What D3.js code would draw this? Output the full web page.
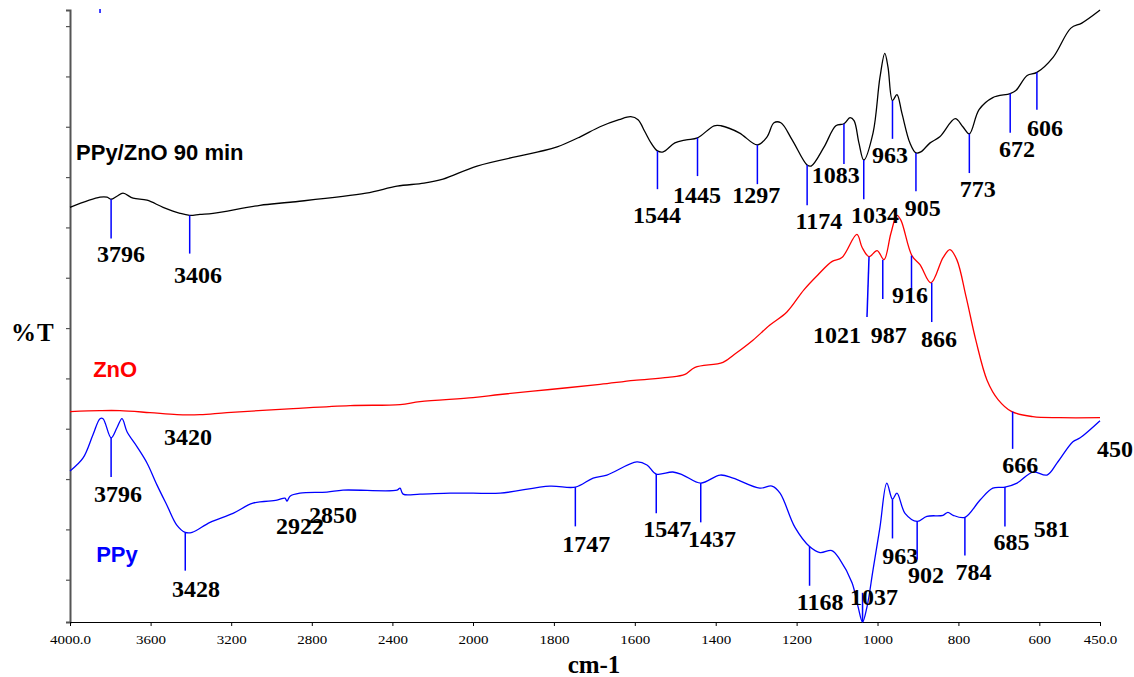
<!DOCTYPE html>
<html>
<head>
<meta charset="utf-8">
<script src="https://cdn.jsdelivr.net/npm/d3@7"></script>
<style>
  html, body { margin: 0; padding: 0; background: #ffffff; }
  svg { display: block; }
</style>
</head>
<body>
<svg id="chart" width="1134" height="677"></svg>
<script>
// ---------------- DATA ----------------
const wavenumberTicks = [4000, 3600, 3200, 2800, 2400, 2000, 1800, 1600, 1400, 1200, 1000, 800, 600, 450];
const wavenumberTickLabels = ["4000.0", "3600", "3200", "2800", "2400", "2000", "1800", "1600", "1400", "1200", "1000", "800", "600", "450.0"];
const transmittanceTicks = [0, 5, 10, 15, 20, 25, 30, 35, 40, 45, 50, 55];

const seriesNames = ["PPy/ZnO 90 min", "ZnO", "PPy"];
const seriesColors = ["#000000", "#ff0000", "#0000ff"];

// [wavenumber (cm-1), %T (offset, arbitrary)]
const ppyZnO = [
  [4000, 37.0], [3851, 38.0], [3816, 38.0], [3796, 37.8], [3767, 38.1], [3737, 38.4],
  [3687, 37.9], [3618, 37.7], [3538, 37.0], [3454, 36.4], [3406, 36.2], [3355, 36.3],
  [3290, 36.4], [3057, 37.2], [2908, 37.5], [2531, 38.4], [2377, 39.1], [2243, 39.4],
  [2149, 39.8], [1990, 41.1], [1839, 42.5], [1792, 43.0], [1735, 44.0], [1686, 45.0],
  [1639, 45.7], [1610, 46.0], [1592, 45.7], [1575, 44.5], [1560, 43.4], [1544, 42.6],
  [1530, 42.5], [1501, 43.4], [1473, 43.7], [1445, 43.9], [1404, 45.1], [1387, 45.1],
  [1342, 44.4], [1297, 43.2], [1273, 44.0], [1256, 45.4], [1239, 45.4], [1211, 43.7],
  [1174, 41.2], [1164, 41.1], [1132, 43.0], [1103, 45.1], [1083, 45.3], [1068, 45.9],
  [1058, 45.6], [1046, 43.4], [1034, 41.7], [1011, 44.4], [994, 49.9], [982, 52.3],
  [974, 50.9], [963, 47.6], [952, 48.2], [940, 46.4], [920, 43.4], [905, 42.4],
  [893, 42.5], [870, 43.4], [846, 44.0], [808, 45.8], [789, 45.0], [773, 44.3],
  [749, 46.7], [715, 47.9], [672, 48.3], [658, 48.6], [630, 50.1], [606, 50.4],
  [566, 51.9], [522, 54.8], [495, 55.3], [453, 56.5], [450, 56.6]
];

const znO = [
  [4000, 16.7], [3851, 16.8], [3752, 16.8], [3603, 16.6], [3469, 16.4], [3355, 16.4],
  [3221, 16.6], [2893, 17.0], [2610, 17.3], [2362, 17.4], [2263, 17.7], [2000, 18.1],
  [1933, 18.4], [1810, 18.9], [1686, 19.4], [1602, 19.8], [1518, 20.1], [1476, 20.4],
  [1451, 21.1], [1382, 21.6], [1350, 22.5], [1308, 23.8], [1266, 25.3], [1224, 26.6],
  [1182, 28.8], [1147, 30.3], [1113, 31.6], [1088, 32.0], [1051, 34.3], [1038, 33.0],
  [1021, 32.1], [1001, 32.7], [984, 31.8], [967, 34.4], [952, 36.2], [942, 35.7],
  [915, 32.2], [895, 31.3], [868, 29.5], [838, 32.0], [821, 32.8], [804, 31.8],
  [781, 28.1], [757, 23.8], [729, 19.8], [702, 17.9], [668, 16.7], [616, 16.2],
  [549, 16.1], [450, 16.1]
];

const ppy = [
  [4000, 10.8], [3935, 12.1], [3886, 14.4], [3851, 16.0], [3836, 16.0], [3796, 14.1],
  [3767, 15.1], [3742, 16.0], [3717, 14.7], [3667, 13.2], [3618, 11.6], [3568, 9.4],
  [3519, 7.4], [3469, 5.4], [3428, 4.7], [3394, 4.7], [3305, 5.7], [3191, 6.6],
  [3092, 7.6], [2973, 7.9], [2933, 8.1], [2923, 7.8], [2908, 8.3], [2859, 8.6],
  [2725, 8.7], [2645, 8.9], [2377, 8.9], [2362, 9.1], [2347, 8.5], [2263, 8.5],
  [2114, 8.6], [2000, 8.6], [1933, 8.6], [1810, 9.3], [1747, 9.2], [1703, 10.1],
  [1669, 10.4], [1595, 11.7], [1570, 11.4], [1547, 10.5], [1506, 10.7], [1481, 10.4],
  [1437, 9.6], [1389, 10.4], [1357, 10.1], [1291, 9.1], [1261, 9.3], [1241, 8.6],
  [1204, 5.2], [1168, 3.3], [1142, 2.7], [1113, 2.9], [1093, 2.0], [1063, -0.3],
  [1048, -2.7], [1037, -4.2], [1026, -2.7], [1011, 1.0], [994, 5.2], [977, 9.6],
  [963, 8.0], [952, 8.6], [932, 6.6], [902, 5.8], [878, 6.3], [838, 6.4],
  [826, 6.7], [813, 6.4], [784, 6.2], [747, 7.9], [715, 9.1], [685, 9.2],
  [655, 9.6], [616, 10.7], [581, 10.4], [556, 11.6], [517, 13.7], [499, 14.1],
  [450, 15.8]
];

// peak annotations: label, marker wavenumber (top / bottom), marker %T top/bottom, label wavenumber, label %T (baseline)
const ppyZnOPeaks = [
  ["3796", 3796, 3796, 37.8, 33.9, 3747, 31.6],
  ["3406", 3406, 3406, 36.2, 32.4, 3365, 29.5],
  ["1544", 1544, 1544, 42.6, 38.8, 1545, 35.4],
  ["1445", 1445, 1445, 43.9, 40.1, 1446, 37.4],
  ["1297", 1297, 1297, 43.2, 39.3, 1300, 37.4],
  ["1174", 1174, 1174, 41.2, 37.2, 1145, 34.8],
  ["1083", 1083, 1083, 45.3, 41.3, 1103, 39.4],
  ["1034", 1034, 1034, 41.7, 37.8, 1006, 35.4],
  ["963", 963, 963, 47.6, 43.8, 969, 41.4],
  ["905", 905, 905, 42.4, 38.6, 888, 36.1],
  ["773", 773, 773, 44.3, 40.4, 752, 38.0],
  ["672", 672, 672, 48.3, 44.4, 655, 42.0],
  ["606", 606, 606, 50.4, 46.7, 586, 44.1]
];
const znOPeaks = [
  ["3420", null, null, null, null, 3414, 13.4],
  ["1021", 1021, 1026, 32.1, 26.1, 1100, 23.5],
  ["987", 987, 987, 31.8, 27.9, 972, 23.5],
  ["916", 916, 916, 32.2, 28.8, 920, 27.5],
  ["866", 866, 866, 29.5, 25.6, 848, 23.1],
  ["666", 666, 666, 16.7, 13.0, 647, 10.6]
];
const ppyPeaks = [
  ["", 3851, 3851, 56.7, 56.3, null, null],
  ["3796", 3796, 3796, 14.1, 10.2, 3762, 7.7],
  ["3428", 3428, 3428, 4.7, 0.9, 3375, -1.7],
  ["2922", null, null, null, null, 2859, 4.5],
  ["2850", null, null, null, null, 2695, 5.6],
  ["1747", 1747, 1747, 9.2, 5.3, 1720, 2.8],
  ["1547", 1547, 1547, 10.5, 6.6, 1520, 4.2],
  ["1437", 1437, 1437, 9.6, 5.7, 1409, 3.3],
  ["1168", 1168, 1168, 3.3, -0.6, 1142, -3.0],
  ["1037", 1037, 1037, -1.3, -4.2, 1009, -2.5],
  ["963", 963, 963, 8.0, 4.1, 944, 1.6],
  ["902", 902, 902, 5.8, 2.0, 880, -0.3],
  ["784", 784, 784, 6.2, 2.4, 763, 0.0],
  ["685", 685, 685, 9.2, 5.3, 669, 3.0],
  ["581", null, null, null, null, 569, 4.2],
  ["450", null, null, null, null, 413, 12.2]
];

// series name label anchor: [wavenumber, %T]
const seriesLabelAnchors = [[3970, 41.7], [3885, 20.1], [3870, 1.8]];

// ---------------- DRAW ----------------
const svg = d3.select("#chart");
const x = d3.scaleLinear().domain([4000, 2000, 450]).range([70, 473, 1100]);
const y = d3.scaleLinear().domain([-4.2, 56.6]).range([622, 10]);

const SERIF = "'Liberation Serif', 'Times New Roman', serif";
const SANS = "'Liberation Sans', Arial, sans-serif";

// Y axis (no labels)
const yAxis = d3.axisLeft(y).tickValues(transmittanceTicks).tickSize(4).tickSizeOuter(4).tickFormat("");
const gy = svg.append("g").attr("transform", "translate(70,0)").call(yAxis);
gy.select(".domain").attr("stroke", "#555").attr("stroke-width", 2);
gy.selectAll(".tick line").attr("stroke", "#555").attr("stroke-width", 1.2);

// X axis
const xAxis = d3.axisBottom(x).tickValues(wavenumberTicks).tickSize(4).tickSizeOuter(0)
  .tickFormat((d, i) => wavenumberTickLabels[i]);
const gx = svg.append("g").attr("transform", "translate(0,622)").call(xAxis);
gx.select(".domain").attr("stroke", "#000").attr("stroke-width", 1.2);
gx.selectAll(".tick line").attr("stroke", "#000");
gx.selectAll(".tick text")
  .attr("y", 22).attr("dy", null)
  .attr("transform", "scale(1.2,1)")
  .style("font-family", SERIF).style("font-size", "12.5px").attr("fill", "#000");

// axis titles
svg.append("text").attr("x", 594).attr("y", 673).attr("text-anchor", "middle")
  .style("font-family", SERIF).style("font-weight", "bold").style("font-size", "25px").text("cm-1");
svg.append("text").attr("x", 11).attr("y", 341)
  .style("font-family", SERIF).style("font-weight", "bold").style("font-size", "25px")
  .style("letter-spacing", "1px").text("%T");

// curves
const line = d3.line().x(d => x(d[0])).y(d => y(d[1])).curve(d3.curveCatmullRom.alpha(0.5));
[ppyZnO, znO, ppy].forEach((data, i) => {
  svg.append("path").datum(data).attr("d", line)
    .attr("fill", "none").attr("stroke", seriesColors[i]).attr("stroke-width", 1.3);
});

// peak markers and labels
[ppyZnOPeaks, znOPeaks, ppyPeaks].forEach(peaks => {
  const g = svg.append("g");
  peaks.forEach(p => {
    const [label, w1, w2, t, b, lw, lv] = p;
    if (w1 !== null) {
      g.append("line").attr("x1", x(w1)).attr("x2", x(w2)).attr("y1", y(t)).attr("y2", y(b))
        .attr("stroke", "#0000ff").attr("stroke-width", 1.5);
    }
    if (lw !== null) {
      g.append("text").attr("x", x(lw)).attr("y", y(lv)).attr("text-anchor", "middle")
        .style("font-family", SERIF).style("font-weight", "bold").style("font-size", "24px")
        .attr("fill", "#000").text(label);
    }
  });
});

// series names
seriesNames.forEach((n, i) => {
  svg.append("text").attr("x", x(seriesLabelAnchors[i][0])).attr("y", y(seriesLabelAnchors[i][1]))
    .style("font-family", SANS).style("font-weight", "bold").style("font-size", "22px")
    .attr("fill", seriesColors[i]).text(n);
});
</script>
</body>
</html>
